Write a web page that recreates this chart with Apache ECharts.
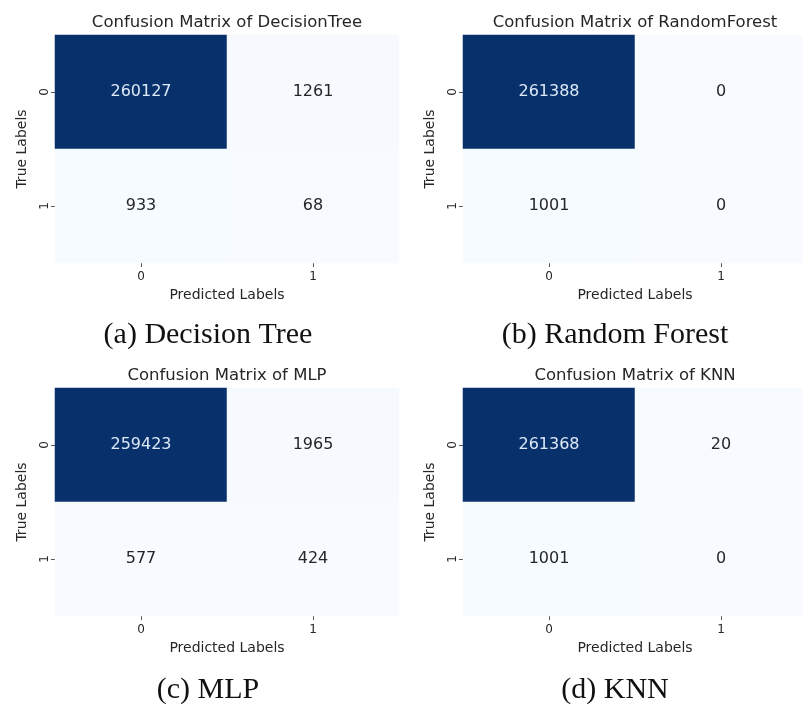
<!DOCTYPE html>
<html>
<head>
<meta charset="utf-8">
<script src="https://cdn.jsdelivr.net/npm/echarts@6/dist/echarts.min.js"></script>
<style>
  html, body { margin: 0; padding: 0; background: #ffffff; }
  #chart { width: 802px; height: 709px; }
</style>
</head>
<body>
<div id="chart"></div>
<script>
// Class labels shared by both axes of every confusion matrix
const classLabels = ['0', '1'];

// Confusion matrices: rows = true label, columns = predicted label
const decisionTreeMatrix = [[260127, 1261], [933, 68]];
const randomForestMatrix = [[261388, 0], [1001, 0]];
const mlpMatrix = [[259423, 1965], [577, 424]];
const knnMatrix = [[261368, 20], [1001, 0]];

const panelTitles = [
  'Confusion Matrix of DecisionTree',
  'Confusion Matrix of RandomForest',
  'Confusion Matrix of MLP',
  'Confusion Matrix of KNN'
];
const panelCaptions = ['(a) Decision Tree', '(b) Random Forest', '(c) MLP', '(d) KNN'];
const xAxisTitle = 'Predicted Labels';
const yAxisTitle = 'True Labels';

const matrices = [decisionTreeMatrix, randomForestMatrix, mlpMatrix, knnMatrix];

// Matplotlib "Blues" colormap stops
const bluesRamp = ['#f7fbff', '#deebf7', '#c6dbef', '#9ecae1', '#6baed6',
                   '#4292c6', '#2171b5', '#08519c', '#08306b'];

// Panel placement: heatmap box origin and size
const cellW = 172, cellH = 114;
const panelOrigins = [[55, 35], [463, 35], [55, 388], [463, 388]];
const captionY = [335, 335, 690, 690];

const chart = echarts.init(document.getElementById('chart'), null, { renderer: 'canvas' });

const grids = [], xAxes = [], yAxes = [], series = [], visualMaps = [], graphics = [];

matrices.forEach((m, i) => {
  const [gx, gy] = panelOrigins[i];
  const flat = m.flat();
  const vmin = Math.min(...flat), vmax = Math.max(...flat);

  grids.push({
    left: gx, top: gy, width: cellW * 2, height: cellH * 2,
    containLabel: false, outerBoundsMode: 'none'
  });

  xAxes.push({
    type: 'category', gridIndex: i, data: classLabels, position: 'bottom',
    name: xAxisTitle, nameLocation: 'middle', nameGap: 25,
    nameTextStyle: { fontFamily: 'DejaVu Sans', fontSize: 14, color: '#262626' },
    axisLine: { show: false },
    axisTick: { show: true, alignWithLabel: true, length: 4, lineStyle: { color: '#555', width: 1 } },
    axisLabel: { margin: 8, fontFamily: 'DejaVu Sans', fontSize: 12, color: '#262626' },
    splitLine: { show: false }, splitArea: { show: false }
  });

  yAxes.push({
    type: 'category', gridIndex: i, data: classLabels, inverse: true,
    name: yAxisTitle, nameLocation: 'middle', nameGap: 26, nameRotate: 90,
    nameTextStyle: { fontFamily: 'DejaVu Sans', fontSize: 14, color: '#262626' },
    axisLine: { show: false },
    axisTick: { show: true, alignWithLabel: true, length: 4, lineStyle: { color: '#555', width: 1 } },
    axisLabel: { margin: 4, rotate: 90, fontFamily: 'DejaVu Sans', fontSize: 12, color: '#262626' },
    splitLine: { show: false }, splitArea: { show: false }
  });

  const data = [];
  m.forEach((row, r) => {
    row.forEach((v, c) => {
      const dark = (v - vmin) / (vmax - vmin || 1) > 0.5;
      data.push({
        value: [c, r, v],
        label: { color: dark ? '#dce9f7' : '#262626' }
      });
    });
  });

  series.push({
    type: 'heatmap', xAxisIndex: i, yAxisIndex: i, data: data,
    label: {
      show: true, fontFamily: 'DejaVu Sans', fontSize: 16,
      formatter: p => String(p.value[2])
    },
    emphasis: { disabled: true }
  });

  visualMaps.push({
    type: 'continuous', show: false, seriesIndex: i,
    min: vmin, max: vmax, dimension: 2,
    inRange: { color: bluesRamp }
  });

  // Panel heading
  graphics.push({
    type: 'text', x: gx + cellW, y: gy - 12,
    style: {
      text: panelTitles[i], textAlign: 'center', textVerticalAlign: 'middle',
      font: '16.5px "DejaVu Sans"', fill: '#262626'
    }
  });
  // Sub-figure caption
  graphics.push({
    type: 'text', x: i % 2 === 0 ? 208 : 615, y: captionY[i],
    style: {
      text: panelCaptions[i], textAlign: 'center', textVerticalAlign: 'middle',
      font: '30px "Liberation Serif"', fill: '#111111'
    }
  });
});

chart.setOption({
  backgroundColor: '#ffffff',
  animation: false,
  grid: grids,
  xAxis: xAxes,
  yAxis: yAxes,
  visualMap: visualMaps,
  series: series,
  graphic: graphics
});
</script>
</body>
</html>
